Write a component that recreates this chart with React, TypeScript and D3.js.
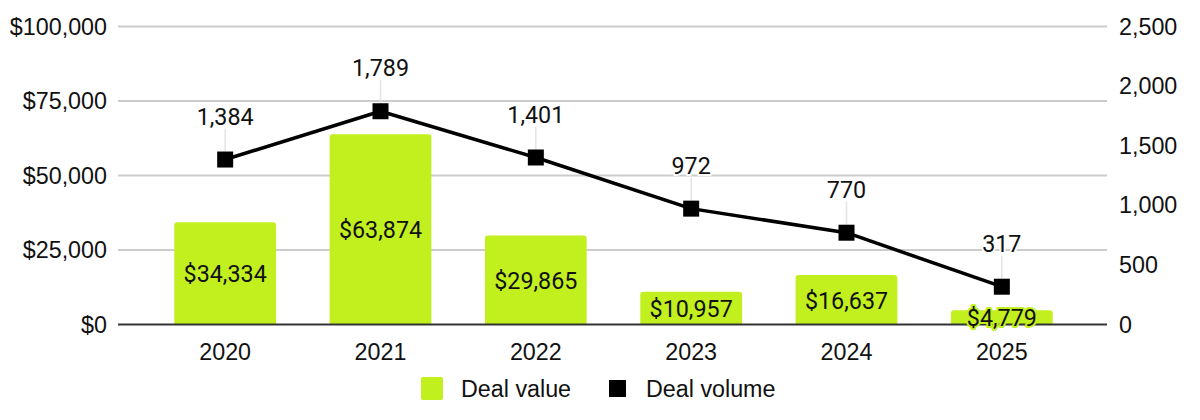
import React from "react";
import * as d3 from "d3";

const years = ["2020", "2021", "2022", "2023", "2024", "2025"];
const dealValue = [34334, 63874, 29865, 10957, 16637, 4779];
const dealVolume = [1384, 1789, 1401, 972, 770, 317];
const leftTicks = [0, 25000, 50000, 75000, 100000];
const rightTicks = [0, 500, 1000, 1500, 2000, 2500];
const seriesNames = ["Deal value", "Deal volume"];

const W = 1200;
const H = 420;
const LIME = "#c2f01e";
const AXIS_FONT = "'Liberation Sans', Arial, sans-serif";
const LABEL_FONT = "Roboto, 'Liberation Sans', sans-serif";
const FS = 23.3;

export default function App() {
  const gridX0 = 118;
  const gridX1 = 1107;
  const x = d3.scaleBand<string>().domain(years).range([147.5, 1079.5]).paddingInner(0.345).paddingOuter(0.1725);
  const yL = d3.scaleLinear().domain([0, 100000]).range([324.5, 26.5]);
  const yR = d3.scaleLinear().domain([0, 2500]).range([324.5, 26.5]);
  const cx = (y: string) => (x(y) as number) + x.bandwidth() / 2;
  const fmtMoney = (v: number) => "$" + d3.format(",")(v);
  const fmtNum = d3.format(",");

  const line = d3
    .line<number>()
    .x((_, i) => cx(years[i]))
    .y((v) => yR(v));

  const barPath = (xs: number, w: number, top: number, bottom: number, r: number) => {
    const rr = Math.min(r, bottom - top);
    return `M${xs},${bottom}V${top + rr}Q${xs},${top} ${xs + rr},${top}H${xs + w - rr}Q${xs + w},${top} ${xs + w},${top + rr}V${bottom}Z`;
  };

  return (
    <svg
      width={W}
      height={H}
      style={{ position: "absolute", left: 0, top: 0, background: "#fff" }}
    >
      {leftTicks.map((t) =>
        t === 0 ? null : (
          <line key={t} x1={gridX0} x2={gridX1} y1={yL(t)} y2={yL(t)} stroke="#cccccc" strokeWidth={2} />
        )
      )}
      {leftTicks.map((t) => (
        <text
          key={"l" + t}
          x={107}
          y={yL(t)}
          textAnchor="end"
          dominantBaseline="central"
          fontFamily={AXIS_FONT}
          fontSize={FS}
          fill="#111"
        >
          {fmtMoney(t)}
        </text>
      ))}
      {rightTicks.map((t) => (
        <text
          key={"r" + t}
          x={1119}
          y={yR(t)}
          textAnchor="start"
          dominantBaseline="central"
          fontFamily={AXIS_FONT}
          fontSize={FS}
          fill="#111"
        >
          {fmtNum(t)}
        </text>
      ))}
      {dealValue.map((v, i) => (
        <path
          key={"b" + i}
          d={barPath(x(years[i]) as number, x.bandwidth(), yL(v), yL(0), 3)}
          fill={LIME}
        />
      ))}
      <line x1={gridX0} x2={gridX1} y1={yL(0)} y2={yL(0)} stroke="#333333" strokeWidth={2} />
      {dealValue.map((v, i) => (
        <text
          key={"bl" + i}
          x={cx(years[i])}
          y={(yL(v) + yL(0)) / 2 + 1}
          textAnchor="middle"
          dominantBaseline="central"
          fontFamily={LABEL_FONT}
          fontSize={FS}
          fill="#111"
          stroke={LIME}
          strokeWidth={4}
          strokeLinejoin="round"
          style={{ paintOrder: "stroke" }}
        >
          {fmtMoney(v)}
        </text>
      ))}
      {years.map((y) => (
        <text
          key={"x" + y}
          x={cx(y)}
          y={352}
          textAnchor="middle"
          dominantBaseline="central"
          fontFamily={AXIS_FONT}
          fontSize={FS}
          fill="#111"
        >
          {y}
        </text>
      ))}
      {dealVolume.map((v, i) => (
        <line
          key={"ld" + i}
          x1={cx(years[i])}
          x2={cx(years[i])}
          y1={yR(v) - 8}
          y2={yR(v) - 31}
          stroke="#e3e3e3"
          strokeWidth={1.5}
        />
      ))}
      <path d={line(dealVolume) || ""} fill="none" stroke="#000" strokeWidth={3.5} strokeLinejoin="round" />
      {dealVolume.map((v, i) => (
        <rect key={"m" + i} x={cx(years[i]) - 8} y={yR(v) - 8} width={16} height={16} fill="#000" />
      ))}
      {dealVolume.map((v, i) => (
        <text
          key={"vl" + i}
          x={cx(years[i])}
          y={yR(v) - 43}
          textAnchor="middle"
          dominantBaseline="central"
          fontFamily={LABEL_FONT}
          fontSize={FS}
          fill="#111"
          stroke="#fff"
          strokeWidth={4}
          strokeLinejoin="round"
          style={{ paintOrder: "stroke" }}
        >
          {fmtNum(v)}
        </text>
      ))}
      <g>
        <rect x={421} y={377} width={22} height={23} rx={2} fill={LIME} />
        <text x={461} y={388.5} dominantBaseline="central" fontFamily={AXIS_FONT} fontSize={FS} fill="#111">
          {seriesNames[0]}
        </text>
        <rect x={609} y={380} width={17} height={17} fill="#000" />
        <text x={646} y={388.5} dominantBaseline="central" fontFamily={AXIS_FONT} fontSize={FS} fill="#111">
          {seriesNames[1]}
        </text>
      </g>
    </svg>
  );
}
